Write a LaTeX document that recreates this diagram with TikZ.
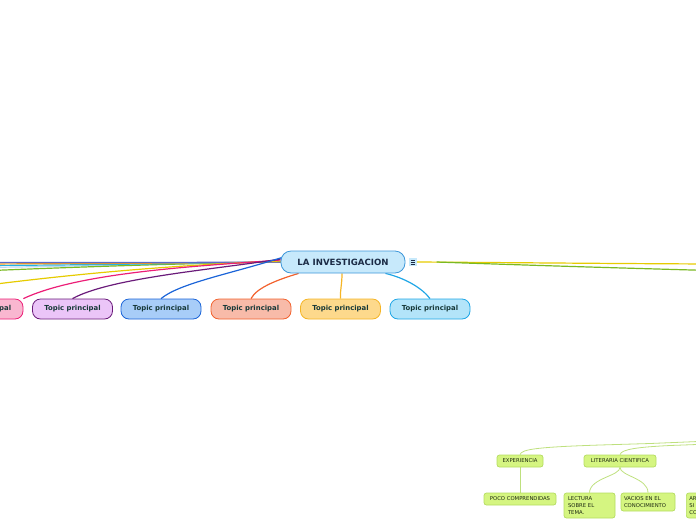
\documentclass[tikz,border=0pt]{standalone}
\usepackage{fontspec}
\setmainfont{DejaVu Sans}
\usetikzlibrary{backgrounds}
\definecolor{cfill}{HTML}{C7E9FB}
\definecolor{cdraw}{HTML}{3D97D9}
\definecolor{ctext}{HTML}{1B2B45}
\definecolor{ttext}{HTML}{163838}
\definecolor{pkf}{HTML}{F9B7D0}\definecolor{pkd}{HTML}{EC1E77}
\definecolor{puf}{HTML}{EBC5F8}\definecolor{pud}{HTML}{6A1B7A}
\definecolor{blf}{HTML}{A8CDF8}\definecolor{bld}{HTML}{1B64D8}
\definecolor{saf}{HTML}{F8BBA9}\definecolor{sad}{HTML}{F2622E}
\definecolor{yef}{HTML}{FDD98C}\definecolor{yed}{HTML}{F5B526}
\definecolor{lbf}{HTML}{B3E4F9}\definecolor{lbd}{HTML}{1FA6E6}
\definecolor{grf}{HTML}{D5F581}\definecolor{grd}{HTML}{B4DC60}
\definecolor{grl}{HTML}{BEE07E}\definecolor{grt}{HTML}{1E2A12}
\definecolor{lyel}{HTML}{E6CB00}\definecolor{lgrn}{HTML}{7AB922}
\definecolor{lora}{HTML}{F39A1E}\definecolor{lcya}{HTML}{22B3E6}
\definecolor{lpal}{HTML}{BFD8EE}\definecolor{lbpu}{HTML}{5A6ACB}
\tikzset{
  topic/.style={draw, line width=0.8pt, rounded corners=8pt, minimum width=80pt, minimum height=20pt, inner sep=0pt, text=ttext, font=\fontsize{6.9}{8}\selectfont\bfseries},
  mainbox/.style={draw=cdraw, fill=cfill, line width=0.8pt, rounded corners=10pt, minimum width=124pt, minimum height=22pt, inner sep=0pt, text=ctext, font=\fontsize{8.6}{10}\selectfont\bfseries},
  sub/.style={draw=grd, fill=grf, line width=0.7pt, rounded corners=2.5pt, minimum height=12pt, inner sep=0pt, text=grt, font=\fontsize{5.3}{6.6}\selectfont},
  link/.style={line width=1.2pt},
  glink/.style={draw=grl, line width=0.8pt}
}
\begin{document}
\begin{tikzpicture}[x=1pt,y=-1pt]
\useasboundingbox (0,0) rectangle (696,520);
\clip (0,0) rectangle (696,520);
% central node
\node[mainbox] (c) at (343,262) {LA INVESTIGACION};
\node[draw=none, fill=cfill, minimum width=8pt, minimum height=8pt, inner sep=0pt] (ic) at (412.5,262) {};
\draw[ctext, line width=0.6pt] ([xshift=-2pt,yshift=-2pt]ic.center) -- ++(4pt,0) ([xshift=-2pt]ic.center) -- ++(4pt,0) ([xshift=-2pt,yshift=2pt]ic.center) -- ++(4pt,0);
% topics
\node[topic, draw=pkd, fill=pkf] (t1) at (-17,309) {Topic principal};
\node[topic, draw=pud, fill=puf] (t2) at (72.5,309) {Topic principal};
\node[topic, draw=bld, fill=blf] (t3) at (161,309) {Topic principal};
\node[topic, draw=sad, fill=saf] (t4) at (251,309) {Topic principal};
\node[topic, draw=yed, fill=yef] (t5) at (340.5,309) {Topic principal};
\node[topic, draw=lbd, fill=lbf] (t6) at (430,309) {Topic principal};
% green subtree
\node[sub, minimum width=46pt] (e1) at (520,461) {EXPERIENCIA};
\node[sub, minimum width=72pt] (e2) at (620,461) {LITERARIA CIENTIFICA};
\node[sub, minimum width=72pt] (p1) at (520,499) {POCO COMPRENDIDAS};
\node[sub, minimum width=51pt, minimum height=25pt, align=left, text width=43pt, inner xsep=4pt] (p2) at (589.5,505.5) {LECTURA\\SOBRE EL\\TEMA.};
\node[sub, minimum width=54pt, minimum height=18pt, align=left, text width=48pt, inner xsep=3pt] (p3) at (648,502) {VACIOS EN EL\\CONOCIMIENTO};
\node[sub, minimum width=50pt, minimum height=25pt, align=left, text width=44pt, inner xsep=3pt, anchor=west] (p4) at (686,505.5) {AR\\SI\\CO};
% off-screen ends
\coordinate (l1) at (-20,262.5);
\coordinate (l2) at (-20,264);
\coordinate (l3) at (-20,265.5);
\coordinate (l4) at (-20,267.5);
\coordinate (l5) at (-20,271);
\coordinate (l6) at (-20,286);
\coordinate (r1) at (710,264);
\coordinate (r2) at (710,270.5);
\coordinate (g0) at (710,441);
\coordinate (g1) at (710,444);
\begin{scope}[on background layer]
% left bundle
\draw[link, lpal] (c.west) .. controls (200,263) and (100,266) .. (l4);
\draw[link, lgrn] (c.west) .. controls (200,263) and (100,266) .. (l5);
\draw[link, lcya] (c.west) .. controls (200,263) and (100,265) .. (l3);
\draw[link, lora] (c.west) .. controls (200,263) and (100,263.5) .. (l2);
\draw[link, lbpu] (c.west) .. controls (200,262.5) and (100,262.5) .. (l1);
\draw[link, lyel] ([yshift=1pt]c.west) .. controls (180,265) and (90,272) .. (l6);
\draw[link, pkd] ([yshift=2pt]c.west) .. controls (200,266) and (80,272) .. (t1.north east);
\draw[link, pud] ([yshift=3pt]c.west) .. controls (210,270) and (110,278) .. (t2.north);
\draw[link, bld] ([xshift=3pt,yshift=5pt]c.west) .. controls (230,274) and (180,283) .. (t3.north);
\draw[link, sad] ([xshift=18pt]c.south west) .. controls (280,279) and (257,287) .. (t4.north);
\draw[link, yed] ([xshift=-1pt]c.south) .. controls (342,285) and (340,290) .. (t5.north);
\draw[link, lbd] ([xshift=-20pt]c.south east) .. controls (405,278) and (422,288) .. (t6.north);
% right lines
\draw[link, lyel] (ic.east) .. controls (500,262.5) and (600,263.5) .. (r1);
\draw[link, lgrn] ([xshift=20pt]ic.east) .. controls (520,265) and (620,268) .. (r2);
% green subtree links
\draw[glink] (e1.north) .. controls (521,449) and (540,447) .. (600,445) -- (650,443.5) .. controls (680,442) .. (g0);
\draw[glink] (e2.north) .. controls (621,449) and (640,447) .. (670,445.5) .. controls (690,444.5) .. (g1);
\draw[glink] (e1.south) -- (p1.north);
\draw[glink] (e2.south) .. controls (620,476) and (590,478) .. (p2.north);
\draw[glink] (e2.south) .. controls (620,476) and (648,478) .. (p3.north);
\end{scope}
\end{tikzpicture}
\end{document}
